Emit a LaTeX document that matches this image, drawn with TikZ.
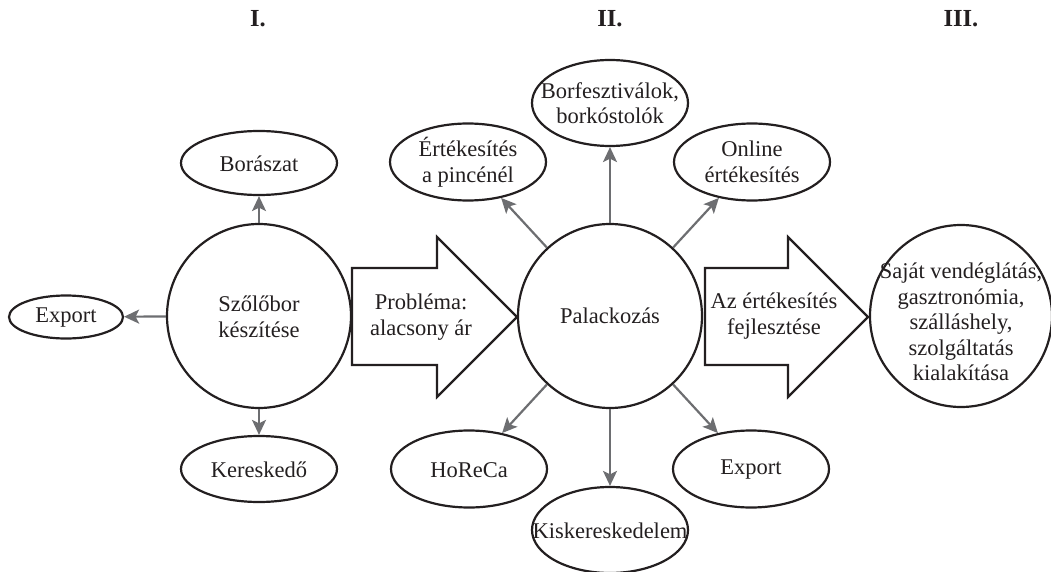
\documentclass[tikz,border=0pt]{standalone}
\usepackage{fontspec}
\setmainfont{Liberation Serif}
\usetikzlibrary{shapes.geometric,arrows.meta}
\definecolor{ink}{HTML}{231F20}
\definecolor{conngrey}{HTML}{6D6E71}
\begin{document}
\begin{tikzpicture}[x=1pt,y=-1pt,
  outline/.style={draw=ink,line width=2.2pt},
  bigcirc/.style={outline,circle,minimum size=184pt,inner sep=0pt},
  oval/.style={outline,ellipse,minimum width=156pt,minimum height=#1,inner sep=0pt},
  oval/.default=64pt,
  label text/.style={text=ink,align=center,font=\fontsize{22.5}{25.5}\selectfont},
  header/.style={text=ink,anchor=base,font=\fontsize{24.5}{28}\selectfont\bfseries},
  conn/.style={draw=conngrey,line width=2.2pt,
    -{Stealth[length=15pt,width=14pt,inset=3.5pt]}},
  blockarrow/.style={outline,line join=miter,fill=white}]
\useasboundingbox (0,0) rectangle (1051,572);

% column headers
\node[header] (h1) at (258,27) {I.};
\node[header] (h2) at (610,27) {II.};
\node[header] (h3) at (961,27) {III.};

% stage I
\node[bigcirc] (wine) at (259,316) {};
\node[label text] (wine-t) at (259,317) {Szőlőbor\\készítése};
\node[oval] (winery) at (259,163) {};
\node[label text] (winery-t) at (259,164) {Borászat};
\node[oval,minimum width=114pt,minimum height=43pt] (export1) at (66,317) {};
\node[label text] (export1-t) at (66,318) {Export};
\node[oval=66pt] (trader) at (259,469) {};
\node[label text] (trader-t) at (259,470) {Kereskedő};

\draw[conn] (wine) -- (winery);
\draw[conn] (wine) -- (export1);
\draw[conn] (wine) -- (trader);

% transition arrows
\draw[blockarrow] (352,268) coordinate (p1) -- (437,268) -- (437,237)
  -- (517,317) coordinate (p1tip) -- (437,397) -- (437,365) -- (352,365) -- cycle;
\node[label text] (p1-t) at (421,317) {Probléma:\\alacsony ár};

\draw[blockarrow] (705,268) coordinate (p2) -- (788,268) -- (788,237)
  -- (868,317) coordinate (p2tip) -- (788,397) -- (788,365) -- (705,365) -- cycle;
\node[label text] (p2-t) at (774,316) {Az értékesítés\\fejlesztése};

% stage II
\node[bigcirc] (bottling) at (610,316) {};
\node[label text] (bottling-t) at (610,316) {Palackozás};

\node[oval=86pt] (fest) at (610,103) {};
\node[label text] (fest-t) at (610,103) {Borfesztiválok,\\borkóstolók};
\node[oval=77pt] (cellar) at (468,162) {};
\node[label text] (cellar-t) at (468,162) {Értékesítés\\a pincénél};
\node[oval=77pt] (online) at (752,162) {};
\node[label text] (online-t) at (752,162) {Online\\értékesítés};
\node[oval=77pt] (horeca) at (469,469) {};
\node[label text] (horeca-t) at (469,470) {HoReCa};
\node[oval=77pt] (export2) at (751,469) {};
\node[label text] (export2-t) at (751,470) {Export};
\node[oval=86pt] (retail) at (610,530) {};
\node[label text] (retail-t) at (610,531) {Kiskereskedelem};

\draw[conn] (bottling) -- (fest);
\draw[conn] (bottling) -- (cellar);
\draw[conn] (bottling) -- (online);
\draw[conn] (bottling) -- (horeca);
\draw[conn] (bottling) -- (export2);
\draw[conn] (bottling) -- (retail);

% stage III
\node[bigcirc,minimum size=182pt] (hosp) at (961,316) {};
\node[label text] (hosp-t) at (961,322)
  {Saját vendéglátás,\\gasztronómia,\\szálláshely,\\szolgáltatás\\kialakítása};
\end{tikzpicture}
\end{document}
